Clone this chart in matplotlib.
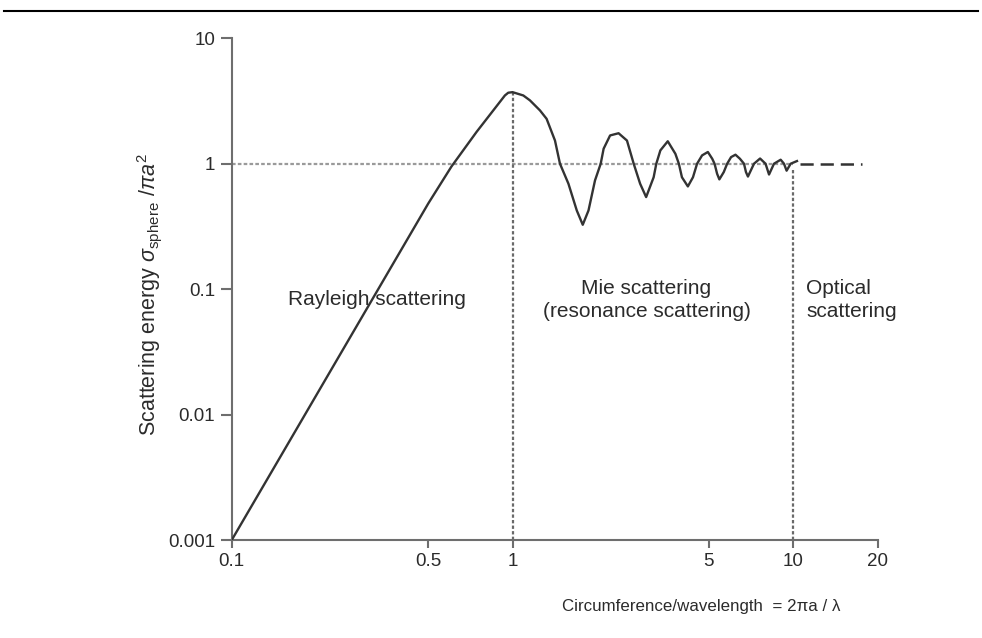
import matplotlib
matplotlib.use("Agg")
import matplotlib.pyplot as plt
from matplotlib.lines import Line2D

plt.rcParams['font.family'] = ['Liberation Sans', 'DejaVu Sans']
plt.rcParams['mathtext.fontset'] = 'custom'
plt.rcParams['mathtext.rm'] = 'Liberation Sans'
plt.rcParams['mathtext.it'] = 'Liberation Sans:italic'
plt.rcParams['mathtext.sf'] = 'Liberation Sans'
plt.rcParams['lines.scale_dashes'] = False

# Scattering efficiency vs. size parameter (circumference / wavelength)
size_param = [0.1, 0.501, 0.606, 0.744, 0.939, 0.965, 1.0, 1.092, 1.153, 1.252,
              1.322, 1.416, 1.475, 1.581, 1.693, 1.778, 1.864, 1.966, 2.06, 2.11,
              2.225, 2.385, 2.555, 2.70, 2.846, 2.99, 3.18, 3.25, 3.36, 3.57,
              3.80, 3.91, 4.01, 4.21, 4.39, 4.54, 4.73, 4.96, 5.14, 5.24,
              5.35, 5.45, 5.65, 5.81, 6.0, 6.22, 6.45, 6.67, 6.78, 6.89,
              7.24, 7.61, 7.96, 8.19, 8.53, 9.01, 9.26, 9.46, 9.78, 10.3]
efficiency = [0.001, 0.482, 0.95, 1.79, 3.5, 3.68, 3.72, 3.5, 3.2, 2.66,
              2.28, 1.53, 1.0, 0.693, 0.424, 0.326, 0.424, 0.736, 1.0, 1.317,
              1.68, 1.75, 1.53, 1.0, 0.693, 0.542, 0.78, 1.0, 1.277, 1.51,
              1.20, 1.0, 0.78, 0.659, 0.78, 1.0, 1.165, 1.24, 1.096, 1.0,
              0.832, 0.75, 0.857, 1.0, 1.129, 1.18, 1.096, 1.0, 0.857, 0.79,
              1.0, 1.10, 1.0, 0.82, 1.0, 1.076, 1.0, 0.88, 1.0, 1.05]

# Geometric-optics limit continuing past the Mie region
optical_x = [10.6, 17.6]
optical_y = [1.0, 1.0]

# Regime boundaries and the reference level
boundary_x = [1.0, 10.0]
boundary_top = [3.72, 0.91]
reference_level = 1.0
reference_end = 10.0

x_ticks = [0.1, 0.5, 1, 5, 10, 20]
x_tick_labels = ['0.1', '0.5', '1', '5', '10', '20']
y_ticks = [0.001, 0.01, 0.1, 1, 10]
y_tick_labels = ['0.001', '0.01', '0.1', '1', '10']

regions = ['Rayleigh scattering', 'Mie scattering\n(resonance scattering)',
           'Optical\nscattering']

text_color = '#2b2b2b'
axis_color = '#6e6e6e'
curve_color = '#333333'

fig = plt.figure(figsize=(9.82, 6.38), dpi=100)
ax = fig.add_axes([0.236, 0.1536, 0.658, 0.7864])
ax.set_xscale('log')
ax.set_yscale('log')
ax.set_xlim(0.1, 20)
ax.set_ylim(0.001, 10)

# reference level and regime boundaries
ax.plot([x_ticks[0], reference_end], [reference_level, reference_level],
        color='#9a9a9a', lw=1.6, dashes=(2.6, 1.6), zorder=1)
for bx, bt in zip(boundary_x, boundary_top):
    ax.plot([bx, bx], [0.001, bt], color='#6a6a6a', lw=1.6,
            dashes=(2.4, 1.6), zorder=1)

ax.plot(size_param, efficiency, color=curve_color, lw=1.7,
        solid_joinstyle='round', zorder=3)
ax.plot(optical_x, optical_y, color=curve_color, lw=1.8,
        dashes=(9.5, 5.0), zorder=3)

for side in ('top', 'right'):
    ax.spines[side].set_visible(False)
for side in ('left', 'bottom'):
    ax.spines[side].set_color(axis_color)
    ax.spines[side].set_linewidth(1.5)

ax.set_xticks(x_ticks)
ax.set_xticklabels(x_tick_labels)
ax.set_yticks(y_ticks)
ax.set_yticklabels(y_tick_labels)
ax.minorticks_off()
ax.tick_params(axis='x', direction='out', length=6, width=1.5,
               color=axis_color, labelsize=13.5, labelcolor=text_color, pad=3)
ax.tick_params(axis='y', direction='out', length=8, width=1.5,
               color=axis_color, labelsize=13.5, labelcolor=text_color, pad=4)

ax.text(0.329, 0.083, regions[0], fontsize=15, color=text_color,
        ha='center', va='center')
ax.text(3.0, 0.082, regions[1], fontsize=15, color=text_color,
        ha='center', va='center', linespacing=1.3)
ax.text(11.1, 0.082, regions[2], fontsize=15, color=text_color,
        ha='left', va='center', linespacing=1.3)

fig.text(150 / 982, 1 - 295 / 638,
         r'Scattering energy $\sigma_{\mathrm{sphere}}$ $/\pi a^2$',
         rotation=90, fontsize=15.5, color=text_color, ha='center', va='center')
fig.text(701 / 982, 1 - 606 / 638,
         'Circumference/wavelength  = 2\u03c0a / \u03bb',
         fontsize=12.2, color=text_color, ha='center', va='center')

# rule across the top of the figure
fig.add_artist(Line2D([4 / 982, 978 / 982], [1 - 11 / 638, 1 - 11 / 638],
                      transform=fig.transFigure, color='black', lw=1.5))

fig.savefig('out.png', dpi=100)
